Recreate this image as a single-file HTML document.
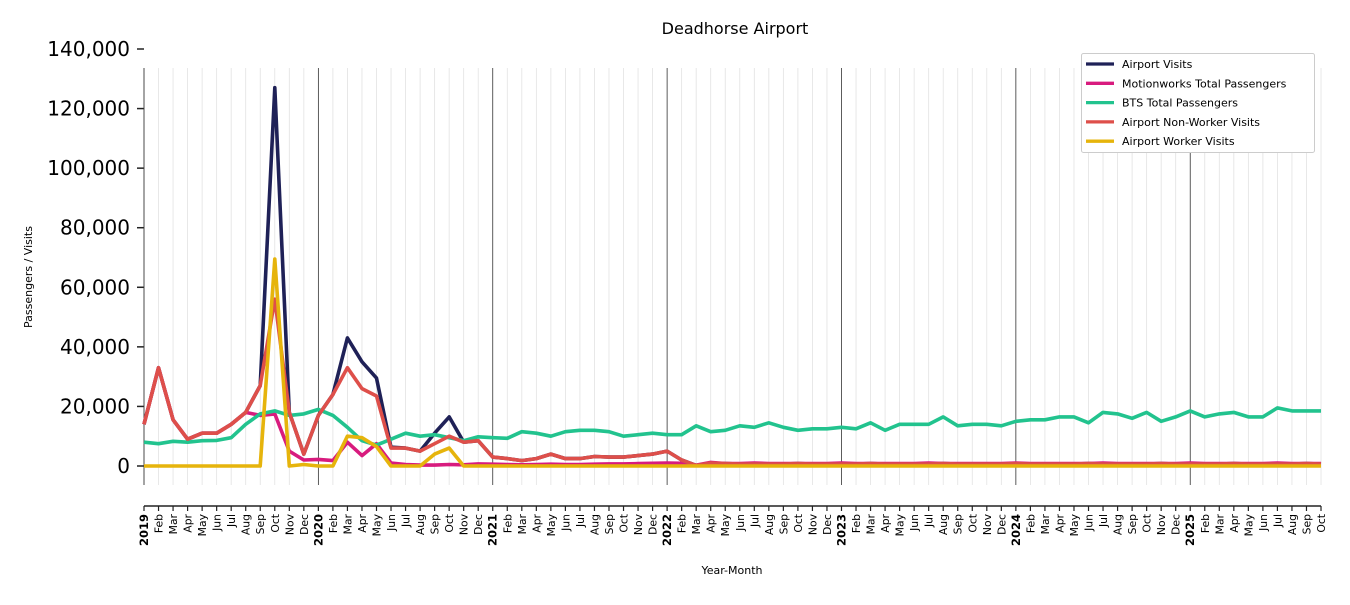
<!DOCTYPE html>
<html><head><meta charset="utf-8"><style>
body{margin:0;background:#fff;}
svg text{font-family:"DejaVu Sans","Liberation Sans",sans-serif;}
</style></head><body>
<svg id="s" width="1350" height="600" xmlns="http://www.w3.org/2000/svg"></svg>
<script>
const s=document.getElementById('s');
const X=i=>144+i*14.531, Y=v=>466-v*417/140000;
let h='';
h+='<text x="735" y="34" font-size="16" text-anchor="middle">Deadhorse Airport</text>';
for(let i=0;i<=81;i++){const x=X(i);const yr=i%12==0;
h+=`<line x1="${x}" y1="68" x2="${x}" y2="485" stroke="${yr?'#333':'#e2e2e2'}" stroke-width="0.8"/>`;}
for(let k=0;k<=7;k++){const y=Y(k*20000);
h+=`<line x1="137" y1="${y}" x2="144" y2="${y}" stroke="#222" stroke-width="1.5"/>`;
h+=`<text x="130" y="${y+7}" font-size="20" text-anchor="end">${(k*20000).toLocaleString('en-US')}</text>`;}
h+=`<line x1="144" y1="68" x2="144" y2="485" stroke="#444" stroke-width="0.8"/>`;
h+=`<line x1="144" y1="506" x2="1321" y2="506" stroke="#222" stroke-width="1.5"/>`;
const M=['Jan','Feb','Mar','Apr','May','Jun','Jul','Aug','Sep','Oct','Nov','Dec'];
for(let i=0;i<=81;i++){const x=X(i);const m=i%12;
h+=`<line x1="${x}" y1="506" x2="${x}" y2="511" stroke="#222" stroke-width="1.2"/>`;
const t=m==0?(2019+i/12):M[m];
h+=`<text transform="translate(${x+4},514) rotate(-90)" font-size="${m==0?11.5:10.8}" ${m==0?'font-weight="bold"':''} text-anchor="end">${t}</text>`;}
h+='<text x="732" y="574" font-size="11" text-anchor="middle">Year-Month</text>';
h+='<text transform="translate(32,277) rotate(-90)" font-size="11" text-anchor="middle">Passengers / Visits</text>';
const green=[8000,7500,8300,8000,8500,8600,9500,14000,17500,18500,17000,17500,19000,17000,13000,8500,7000,9000,11000,10000,10500,9500,8500,9800,9500,9300,11500,11000,10000,11500,12000,12000,11500,10000,10500,11000,10500,10500,13500,11500,12000,13500,13000,14500,13000,12000,12500,12500,13000,12500,14500,12000,14000,14000,14000,16500,13500,14000,14000,13500,15000,15500,15500,16500,16500,14500,18000,17500,16000,18000,15000,16500,18500,16500,17500,18000,16500,16500,19500,18500,18500,18500];
const redHead=[14000,33000,15500,9000,11000,11000,14000,18000,27000,56000,18000,4000,17000,24000,33000,26000,23500,6000,6000,5000,7500,10000,8000,8500,3000,2500,1800,2500,4000,2500,2500,3200,3000,3000,3500,4000,5000,2000,200,1000,800];
const red=redHead.slice();while(red.length<82)red.push(red.length%5==0?800:650);
const navy=red.slice();const nv={9:127000,14:43000,15:35000,16:29500,17:6300,19:5000,20:11000,21:16500};
for(const k in nv)navy[k]=nv[k];
const yel=new Array(82).fill(0);Object.assign(yel,{9:69500,11:500,14:10000,15:9500,16:6500,20:4000,21:6000});
const mag=red.slice();Object.assign(mag,{8:17000,9:17500,10:5000,11:2000,12:2200,13:1800,14:8000,15:3500,16:7500,17:1000,18:500,19:300,20:300,21:500,22:400,23:700,24:600,25:500,26:400,27:500,28:600,29:500,30:500,31:600,32:700,33:700,34:800,35:900,36:1000,37:900,38:300,39:1200});
for(let i=40;i<82;i++)mag[i]=i%6==0?1000:800;
const line=(d,c)=>{h+=`<polyline fill="none" stroke="${c}" stroke-width="3.6" stroke-linejoin="round" points="${d.map((v,i)=>X(i).toFixed(1)+','+Y(v).toFixed(1)).join(' ')}"/>`;};
line(navy,'#1f2157');line(mag,'#d81b7e');line(green,'#22c38e');line(red,'#de4f4a');line(yel,'#e6b40c');
h+='<rect x="1081.5" y="53.5" width="233" height="99" fill="#fff" stroke="#ccc" rx="2"/>';
const L=[['Airport Visits','#1f2157'],['Motionworks Total Passengers','#d81b7e'],['BTS Total Passengers','#22c38e'],['Airport Non-Worker Visits','#de4f4a'],['Airport Worker Visits','#e6b40c']];
L.forEach((l,k)=>{const y=64+k*19.3;h+=`<line x1="1086" y1="${y}" x2="1114" y2="${y}" stroke="${l[1]}" stroke-width="3.3"/><text x="1122" y="${y+4}" font-size="11">${l[0]}</text>`;});
s.innerHTML=h;
</script>
</body></html>
